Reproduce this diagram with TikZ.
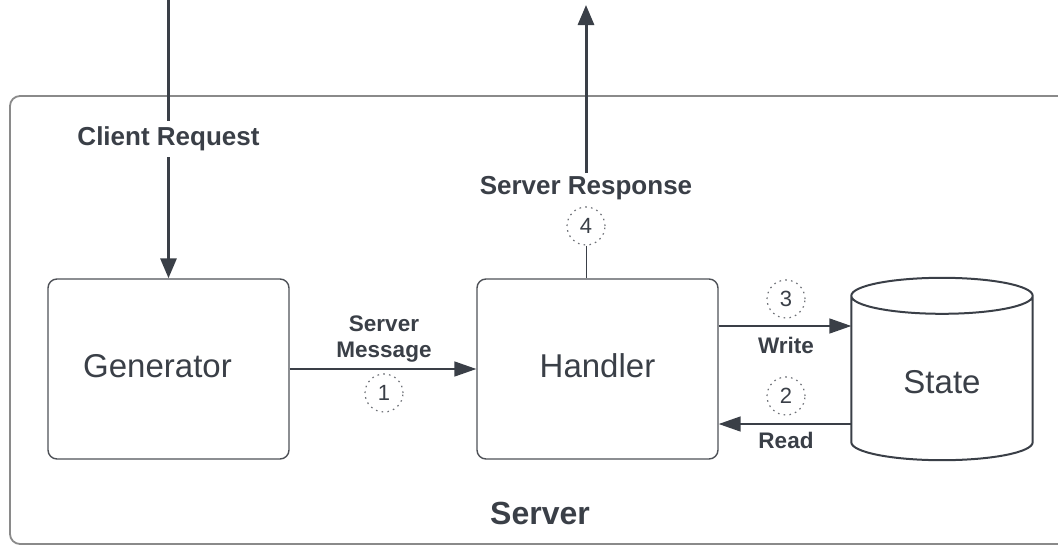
\documentclass[tikz,border=0pt]{standalone}
\usepackage{fontspec}
\setmainfont{Liberation Sans}
\usetikzlibrary{arrows.meta,calc}
\definecolor{ink}{HTML}{3A3F47}
\definecolor{frame}{HTML}{8A8A8A}
\definecolor{boxline}{HTML}{4E5157}
\definecolor{dotc}{HTML}{6E7177}
\tikzset{
  x=1pt, y=-1pt,
  block/.style={draw=boxline, line width=1.4pt, rounded corners=9pt,
    minimum width=241pt, minimum height=180pt, font=\fontsize{33}{36}\selectfont, text=ink},
  bigarrow/.style={draw=ink, line width=3pt, -{Triangle[length=20pt,width=16pt]}},
  conn/.style={draw=ink, line width=1.6pt, -{Triangle[length=22pt,width=15pt]}},
  lbl/.style={font=\bfseries\fontsize{22.5}{26}\selectfont, text=ink, align=center, inner sep=2pt},
  biglbl/.style={font=\bfseries\fontsize{26}{30}\selectfont, text=ink, inner sep=3pt},
  stepnum/.style={circle, draw=dotc, line width=1.2pt, dash pattern=on 1.6pt off 4.2pt,
    minimum size=38pt, inner sep=0pt, font=\fontsize{22}{24}\selectfont, text=ink},
}
\begin{document}
\begin{tikzpicture}
\useasboundingbox (0,0) rectangle (1058,546);
% server frame
\draw[frame, line width=1.8pt, rounded corners=10pt] (10,96) rectangle (1070,544);
\node[font=\bfseries\fontsize{32}{36}\selectfont, text=ink] (server) at (540,513) {Server};

% components (titles sit a little above centre)
\node[block] (gen) at (168.5,369) {\raisebox{6pt}{Generator}\hspace*{22pt}};
\node[block] (handler) at (597.5,369) {\raisebox{6pt}{Handler}};

% state store: cylinder drawn round an empty anchor box
\node[minimum width=181pt, minimum height=182pt, inner sep=0pt] (state) at (942,369) {};
\node[font=\fontsize{33}{36}\selectfont, text=ink] (statelbl) at (942,382) {State};
\path let \p1=(state.north west), \p2=(state.south east) in
  \pgfextra{\pgfmathsetmacro\rx{(\x2-\x1)/2}}
  [draw=ink, line width=2pt]
  (\x1,\y1-18) -- (\x1,\y2+18)
  arc[start angle=180, end angle=360, x radius=\rx pt, y radius=18pt]
  -- (\x2,\y1-18)
  (\x1,\y1-18) arc[start angle=180, end angle=-180, x radius=\rx pt, y radius=18pt];

% client request coming in
\coordinate (in) at (168.5,0);
\draw[bigarrow] (in) -- node[pos=0.5, fill=white, biglbl, inner ysep=6pt] (req) {Client Request} (gen.north);

% response going out
\node[stepnum] (s4) at (586,226) {4};
\node[biglbl] (resp) at (586,188) {Server Response};
\coordinate (out) at (586,5);
\draw[ink, line width=1pt] (s4.south) -- (s4.south |- handler.north);
\draw[bigarrow] (resp.north) -- (out);

% generator to handler
\draw[conn] (gen.east) -- (handler.west);
\node[lbl] (msg) at (384,339) {Server\\[0pt]Message};
\node[stepnum] (s1) at (384,393) {1};

% write and read
\coordinate (w) at (0,326);
\coordinate (r) at (0,424);
\draw[conn] (handler.east |- w) -- (state.west |- w);
\draw[conn] (state.west |- r) -- (handler.east |- r);
\node[stepnum] (s3) at (786,299) {3};
\node[lbl] (wl) at (786,345) {Write};
\node[stepnum] (s2) at (786,396) {2};
\node[lbl] (rl) at (786,440) {Read};
\end{tikzpicture}
\end{document}
